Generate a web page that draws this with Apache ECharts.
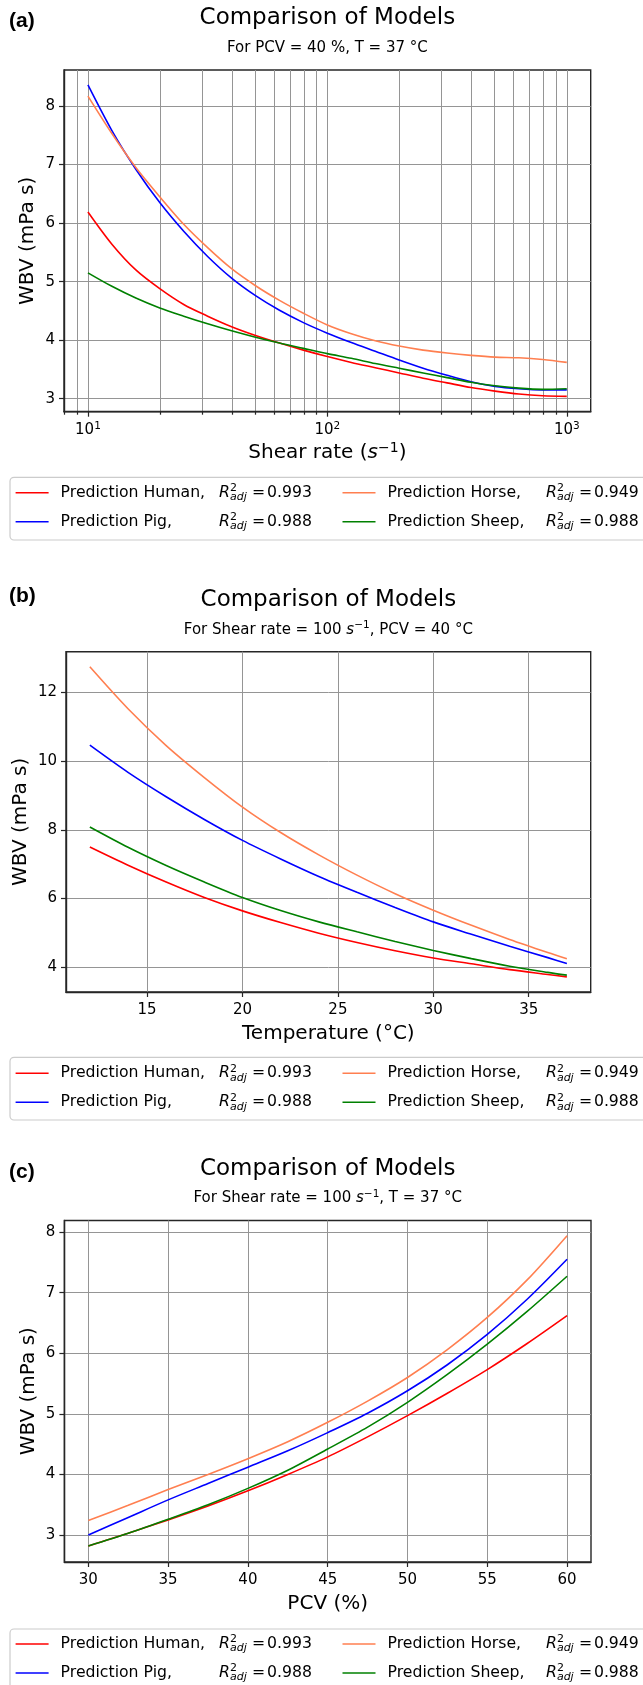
<!DOCTYPE html>
<html>
<head>
<meta charset="utf-8">
<script src="https://cdn.jsdelivr.net/npm/echarts@6/dist/echarts.min.js"></script>
<style>
html,body{margin:0;padding:0;background:#ffffff;}
#chart{width:643px;height:1685px;}
</style>
</head>
<body>
<div id="chart"></div>
<script>
// ---------------- DATA ----------------
const speciesNames = ['Prediction Human', 'Prediction Pig', 'Prediction Horse', 'Prediction Sheep'];
const r2Adj = ['0.993', '0.988', '0.949', '0.988'];

// Panel (a): WBV vs shear rate (PCV = 40 %, T = 37 °C)
const shearRate = [10, 12.59, 15.85, 19.95, 25.12, 31.62, 39.81, 50.12, 63.1, 79.43, 100, 125.9, 158.5, 199.5, 251.2, 316.2, 398.1, 501.2, 631, 794.3, 1000];
const wbvShearHuman = [6.19, 5.64, 5.20, 4.88, 4.61, 4.41, 4.23, 4.08, 3.95, 3.83, 3.72, 3.62, 3.53, 3.44, 3.35, 3.27, 3.19, 3.13, 3.08, 3.05, 3.04];
const wbvShearPig   = [8.36, 7.58, 6.92, 6.35, 5.86, 5.43, 5.06, 4.76, 4.51, 4.30, 4.12, 3.96, 3.81, 3.66, 3.52, 3.40, 3.29, 3.21, 3.17, 3.15, 3.15];
const wbvShearHorse = [8.17, 7.53, 6.95, 6.45, 5.98, 5.58, 5.22, 4.93, 4.68, 4.46, 4.26, 4.11, 3.99, 3.90, 3.83, 3.78, 3.74, 3.71, 3.70, 3.67, 3.62];
const wbvShearSheep = [5.15, 4.92, 4.72, 4.55, 4.41, 4.28, 4.16, 4.05, 3.95, 3.86, 3.77, 3.69, 3.60, 3.52, 3.44, 3.36, 3.28, 3.22, 3.18, 3.16, 3.17];
const shearMajorTicks = [10, 100, 1000];
const shearTickExponents = ['1', '2', '3'];
const shearMinorTicks = [8, 9, 20, 30, 40, 50, 60, 70, 80, 90, 200, 300, 400, 500, 600, 700, 800, 900];
const wbvTicksA = [3, 4, 5, 6, 7, 8];

// Panel (b): WBV vs temperature (shear rate = 100 1/s, PCV = 40)
const temperature = [12, 14, 16, 18, 20, 22, 24, 26, 28, 30, 32, 34, 36, 37];
const wbvTempHuman = [7.50, 6.97, 6.48, 6.03, 5.64, 5.30, 4.99, 4.72, 4.48, 4.27, 4.10, 3.93, 3.79, 3.72];
const wbvTempPig   = [10.46, 9.67, 8.96, 8.30, 7.69, 7.15, 6.64, 6.18, 5.74, 5.32, 4.96, 4.61, 4.28, 4.11];
const wbvTempHorse = [12.74, 11.52, 10.45, 9.52, 8.66, 7.92, 7.27, 6.68, 6.14, 5.66, 5.22, 4.81, 4.43, 4.25];
const wbvTempSheep = [8.08, 7.49, 6.96, 6.48, 6.03, 5.65, 5.32, 5.03, 4.75, 4.49, 4.25, 4.03, 3.85, 3.77];
const tempTicks = [15, 20, 25, 30, 35];
const wbvTicksB = [4, 6, 8, 10, 12];

// Panel (c): WBV vs PCV (shear rate = 100 1/s, T = 37 °C)
const pcv = [30, 32.5, 35, 37.5, 40, 42.5, 45, 47.5, 50, 52.5, 55, 57.5, 60];
const wbvPcvHuman = [2.82, 3.03, 3.25, 3.48, 3.73, 4.00, 4.29, 4.62, 4.97, 5.34, 5.73, 6.16, 6.62];
const wbvPcvPig   = [3.00, 3.29, 3.58, 3.85, 4.12, 4.39, 4.69, 5.01, 5.38, 5.81, 6.31, 6.89, 7.55];
const wbvPcvHorse = [3.24, 3.49, 3.75, 4.00, 4.26, 4.54, 4.86, 5.21, 5.60, 6.06, 6.59, 7.21, 7.94];
const wbvPcvSheep = [2.82, 3.03, 3.26, 3.50, 3.77, 4.07, 4.42, 4.78, 5.19, 5.65, 6.15, 6.69, 7.27];
const pcvTicks = [30, 35, 40, 45, 50, 55, 60];
const wbvTicksC = [3, 4, 5, 6, 7, 8];

// ---------------- STYLE / LAYOUT ----------------
const FONT = 'DejaVu Sans';
const TXT = '#000000';
const FRAME = '#262626';
const GRIDC = '#959595';
const seriesColors = ['#ff0000', '#0000ff', '#ff7f50', '#008000'];
function tok(o) { return Object.assign({ fontFamily: FONT, color: TXT, fontWeight: 'normal' }, o); }

const supRich = {
  n: tok({ fontSize: 20, lineHeight: 24 }),
  i: tok({ fontSize: 20, lineHeight: 24, fontStyle: 'italic' }),
  p: tok({ fontSize: 14, lineHeight: 14, verticalAlign: 'top' })
};
const subRich = {
  i: tok({ fontSize: 15, lineHeight: 20, fontStyle: 'italic' }),
  p: tok({ fontSize: 10.5, lineHeight: 10, verticalAlign: 'top' })
};

const panels = [
  {
    label: '(a)', labelY: 21.7, titleY: 18.3, subY: 48.3,
    subtitle: 'For PCV = 40 %, T = 37 °C',
    grid: { left: 64, top: 70, width: 526.7, height: 341.7 },
    x: shearRate, ys: [wbvShearHuman, wbvShearPig, wbvShearHorse, wbvShearSheep],
    xType: 'log', xMin: 7.943, xMax: 1258.9, xTicks: shearMajorTicks,
    yMin: 2.778, yMax: 8.615, yTicks: wbvTicksA,
    xName: '{n|Shear rate (}{i|s}{p|−1}{n|)}', yGap: 24,
    legendTop: 482.7, boxTop: 477.3
  },
  {
    label: '(b)', labelY: 596.7, titleY: 600, subY: 630,
    subtitle: 'For Shear rate = 100 {i|s}{p|−1}, PCV = 40 °C',
    grid: { left: 66, top: 651.7, width: 524.7, height: 340.3 },
    x: temperature, ys: [wbvTempHuman, wbvTempPig, wbvTempHorse, wbvTempSheep],
    xType: 'value', xMin: 10.75, xMax: 38.25, xTicks: tempTicks,
    yMin: 3.28, yMax: 13.18, yTicks: wbvTicksB,
    xName: '{n|Temperature (°C)}', yGap: 33,
    legendTop: 1063.3, boxTop: 1057.3
  },
  {
    label: '(c)', labelY: 1171.8, titleY: 1168.9, subY: 1198.3,
    subtitle: 'For Shear rate = 100 {i|s}{p|−1}, T = 37 °C',
    grid: { left: 64.4, top: 1220.5, width: 526.6, height: 341.5 },
    x: pcv, ys: [wbvPcvHuman, wbvPcvPig, wbvPcvHorse, wbvPcvSheep],
    xType: 'value', xMin: 28.5, xMax: 61.5, xTicks: pcvTicks,
    yMin: 2.555, yMax: 8.19, yTicks: wbvTicksC,
    xName: '{n|PCV (%)}', yGap: 24,
    legendTop: 1634, boxTop: 1629
  }
];

const option = {
  animation: false,
  backgroundColor: '#ffffff',
  textStyle: { fontFamily: FONT, color: TXT },
  title: [], grid: [], xAxis: [], yAxis: [], series: [], legend: [], graphic: []
};

const axisLineStyle = { color: FRAME, width: 1.4 };
const tickLineStyle = { color: FRAME, width: 1.2 };
const splitStyle = { show: true, lineStyle: { color: GRIDC, width: 1, type: 'solid' } };

panels.forEach((p, pi) => {
  const cx = p.grid.left + p.grid.width / 2;
  option.title.push({
    text: 'Comparison of Models', left: cx, top: p.titleY - 14, textAlign: 'center', textVerticalAlign: 'top',
    padding: 0, textStyle: tok({ fontSize: 23, lineHeight: 28 })
  });
  option.title.push({
    text: p.subtitle, left: cx, top: p.subY - 10, textAlign: 'center', textVerticalAlign: 'top',
    padding: 0, textStyle: Object.assign(tok({ fontSize: 15, lineHeight: 20 }), { rich: subRich })
  });
  option.graphic.push({
    type: 'text', x: 9, y: p.labelY, silent: true,
    style: { text: p.label, fontFamily: 'Liberation Sans', fontWeight: 'bold', fontSize: 21, fill: TXT, verticalAlign: 'middle', align: 'left' }
  });
  option.graphic.push({
    type: 'rect', silent: true, z: 0,
    shape: { x: 10, y: p.boxTop, width: 650, height: 62.7, r: 4 },
    style: { fill: 'rgba(255,255,255,0.8)', stroke: '#cccccc', lineWidth: 1.2 }
  });

  option.grid.push(Object.assign({
    show: true, borderColor: FRAME, borderWidth: 1.4, backgroundColor: 'transparent',
    containLabel: false, outerBoundsMode: 'none'
  }, p.grid));

  const xIndex = option.xAxis.length;
  const xAxis = {
    type: p.xType, gridIndex: pi, min: p.xMin, max: p.xMax, position: 'bottom',
    axisLine: { show: true, onZero: false, lineStyle: axisLineStyle },
    axisTick: { show: true, inside: false, length: 5, customValues: p.xTicks, lineStyle: tickLineStyle },
    axisLabel: { show: true, margin: 9, customValues: p.xTicks, fontFamily: FONT, fontSize: 15, lineHeight: 18, color: TXT },
    splitLine: splitStyle,
    minorTick: { show: false }, minorSplitLine: { show: false },
    name: p.xName, nameLocation: 'middle', nameGap: 29.3, nameMoveOverlap: false,
    nameTextStyle: { rich: supRich }
  };
  if (p.xType === 'log') {
    xAxis.logBase = 10;
    xAxis.axisLabel.formatter = function (v) {
      let k = 0;
      shearMajorTicks.forEach((t, i) => { if (Math.abs(t - v) < 1e-6 * t) k = i; });
      return '{b|10}{s|' + shearTickExponents[k] + '}';
    };
    xAxis.axisLabel.rich = {
      b: tok({ fontSize: 15, lineHeight: 18 }),
      s: tok({ fontSize: 10.5, lineHeight: 10, verticalAlign: 'top' })
    };
  }
  option.xAxis.push(xAxis);
  if (p.xType === 'log') {
    option.xAxis.push({
      type: 'log', logBase: 10, gridIndex: pi, min: p.xMin, max: p.xMax, position: 'bottom',
      axisLine: { show: false },
      axisTick: { show: true, inside: false, length: 3, customValues: shearMinorTicks, lineStyle: tickLineStyle },
      axisLabel: { show: false },
      splitLine: splitStyle
    });
  }

  const yIndex = option.yAxis.length;
  option.yAxis.push({
    type: 'value', gridIndex: pi, min: p.yMin, max: p.yMax, position: 'left',
    axisLine: { show: true, onZero: false, lineStyle: axisLineStyle },
    axisTick: { show: true, inside: false, length: 5, customValues: p.yTicks, lineStyle: tickLineStyle },
    axisLabel: { show: true, margin: 9, customValues: p.yTicks, fontFamily: FONT, fontSize: 15, color: TXT },
    splitLine: splitStyle,
    name: 'WBV (mPa s)', nameLocation: 'middle', nameGap: p.yGap, nameRotate: 90, nameMoveOverlap: false,
    nameTextStyle: tok({ fontSize: 20, lineHeight: 24 })
  });

  p.ys.forEach((vals, k) => {
    option.series.push({
      type: 'line', name: speciesNames[k], xAxisIndex: xIndex, yAxisIndex: yIndex,
      data: p.x.map((xv, i) => [xv, vals[i]]),
      showSymbol: false, symbol: 'none', smooth: 0.3, silent: true,
      lineStyle: { color: seriesColors[k], width: 1.6 },
      itemStyle: { color: seriesColors[k] },
      emphasis: { disabled: true }, z: 3
    });
  });

  // two legend columns (matplotlib ncol=2: column 1 Human/Pig, column 2 Horse/Sheep)
  [[0, 1], [2, 3]].forEach((col, ci) => {
    option.legend.push({
      orient: 'vertical', left: ci === 0 ? 15.6 : 342.5, top: p.legendTop,
      data: col.map(k => speciesNames[k]),
      icon: 'rect', itemWidth: 33, itemHeight: 1.6, itemGap: 9, padding: 0,
      selectedMode: false, itemStyle: { borderWidth: 0 },
      formatter: function (name) {
        const k = speciesNames.indexOf(name);
        return '{n|' + name + ',}{r|R}{sp|2}{sb|adj}{eq|=}{v|' + r2Adj[k] + '}';
      },
      textStyle: Object.assign(tok({ fontSize: 15.7, lineHeight: 20, padding: [0, 0, 0, 7] }), {
        rich: {
          n: tok({ fontSize: 15.7, lineHeight: 20, width: 158.5 }),
          r: tok({ fontSize: 15.7, lineHeight: 20, fontStyle: 'italic' }),
          sp: tok({ fontSize: 11, lineHeight: 10, verticalAlign: 'top', width: 0 }),
          sb: tok({ fontSize: 11, lineHeight: 10, verticalAlign: 'bottom', fontStyle: 'italic', width: 22 }),
          eq: tok({ fontSize: 15.7, lineHeight: 20, width: 15 }),
          v: tok({ fontSize: 15.7, lineHeight: 20 })
        }
      })
    });
  });
});

const chart = echarts.init(document.getElementById('chart'), null, { renderer: 'canvas', width: 643, height: 1685 });
chart.setOption(option);
</script>
</body>
</html>
